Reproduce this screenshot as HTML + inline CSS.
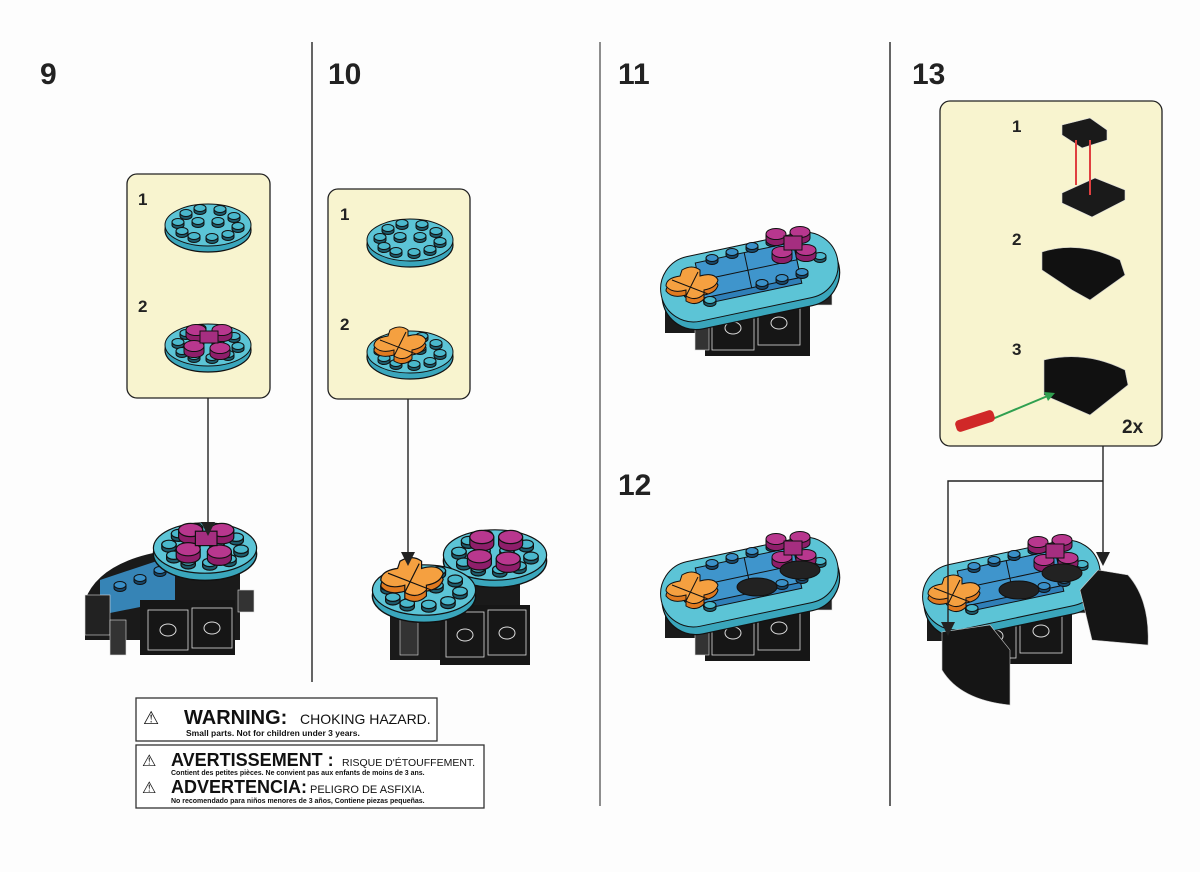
<!DOCTYPE html>
<html><head><meta charset="utf-8"><style>
body{margin:0;background:#fff;}
svg{display:block}
.n{font-family:"Liberation Sans",sans-serif;font-weight:bold;fill:#222}
.w{font-family:"Liberation Sans",sans-serif;fill:#111}
</style></head><body>
<svg width="1200" height="872" viewBox="0 0 1200 872" xmlns="http://www.w3.org/2000/svg">
<defs>
<symbol id="sc" overflow="visible"><path d="M-6,0 v3 a6,3.5 0 0 0 12,0 v-3z" fill="#1c5a6a" stroke="#111" stroke-width="1"/><ellipse rx="6" ry="3.5" fill="#4ab8cc" stroke="#111" stroke-width="1"/></symbol>
<symbol id="sb" overflow="visible"><path d="M-6,0 v3 a6,3.5 0 0 0 12,0 v-3z" fill="#17476a" stroke="#111" stroke-width="1"/><ellipse rx="6" ry="3.5" fill="#3a90c8" stroke="#111" stroke-width="1"/></symbol>
<symbol id="sp" overflow="visible"><path d="M-10,0 v6 a10,5.5 0 0 0 20,0 v-6z" fill="#8e1e6a" stroke="#111" stroke-width="1"/><ellipse rx="10" ry="5.5" fill="#b8378e" stroke="#111" stroke-width="1"/></symbol>
<symbol id="rp" overflow="visible">
<ellipse cx="0" cy="5" rx="43" ry="22" fill="#3aa6bc" stroke="#111" stroke-width="1.2"/>
<ellipse cx="0" cy="0" rx="43" ry="21" fill="#5cc4d6" stroke="#111" stroke-width="1"/>
</symbol>
<symbol id="st12" overflow="visible">
<use href="#sc" x="-30" y="-3"/><use href="#sc" x="-22" y="-12"/><use href="#sc" x="-8" y="-17"/><use href="#sc" x="12" y="-16"/><use href="#sc" x="26" y="-9"/><use href="#sc" x="30" y="1"/><use href="#sc" x="20" y="9"/><use href="#sc" x="4" y="12"/><use href="#sc" x="-14" y="11"/><use href="#sc" x="-26" y="6"/><use href="#sc" x="-10" y="-4"/><use href="#sc" x="10" y="-4"/>
</symbol>
<symbol id="oc" overflow="visible">
<path d="M-8,-16 q10,-6 18,0 l0,6 q14,-4 18,4 q-2,8 -14,10 l0,4 q-8,8 -18,2 l0,-6 q-14,4 -20,-4 q0,-8 14,-10z" fill="#e07a20" transform="translate(0,5)" stroke="#111"/>
<path d="M-8,-16 q10,-6 18,0 l0,6 q14,-4 18,4 q-2,8 -14,10 l0,4 q-8,8 -18,2 l0,-6 q-14,4 -20,-4 q0,-8 14,-10z" fill="#f5a040" stroke="#111"/>
<path d="M-18,-6 L18,8 M-4,10 L8,-14" stroke="#111" fill="none"/>
</symbol>
<symbol id="mod" overflow="visible">
<rect x="665" y="285" width="32" height="48" fill="#1a1a1a"/>
<rect x="810" y="280" width="22" height="25" fill="#222" stroke="#ddd" stroke-width=".6"/>
<rect x="705" y="292" width="105" height="64" fill="#161616"/>
<rect x="712" y="305" width="42" height="45" fill="none" stroke="#ddd" stroke-width=".8"/>
<rect x="758" y="300" width="42" height="45" fill="none" stroke="#ddd" stroke-width=".8"/>
<ellipse cx="733" cy="328" rx="8" ry="6" fill="none" stroke="#ddd"/>
<ellipse cx="779" cy="323" rx="8" ry="6" fill="none" stroke="#ddd"/>
<rect x="695" y="320" width="14" height="30" fill="#333" stroke="#ddd" stroke-width=".6"/>
<g transform="rotate(-12 750 280)">
<rect x="660" y="250" width="180" height="68" rx="34" fill="#3aa6bc" stroke="#111" stroke-width="1.2"/>
<rect x="660" y="244" width="180" height="66" rx="33" fill="#5cc4d6" stroke="#111"/>
<rect x="700" y="258" width="100" height="36" fill="#2f7fb8" stroke="#111"/>
<rect x="700" y="252" width="100" height="36" fill="#3f95cc" stroke="#111"/>
<line x1="750" y1="252" x2="750" y2="288" stroke="#111"/>
<line x1="700" y1="270" x2="800" y2="270" stroke="#111"/>
</g>
<use href="#sb" x="712" y="258"/><use href="#sb" x="732" y="252"/><use href="#sb" x="752" y="246"/><use href="#sb" x="772" y="240"/>
<use href="#sb" x="762" y="283"/><use href="#sb" x="782" y="278"/><use href="#sb" x="802" y="272"/>
<use href="#sc" x="820" y="256"/><use href="#sc" x="710" y="300"/><use href="#sc" x="690" y="292"/>
<use href="#sp" x="776" y="234"/><use href="#sp" x="800" y="232"/><use href="#sp" x="782" y="252"/><use href="#sp" x="806" y="250"/>
<rect x="784" y="236" width="18" height="14" fill="#a52e80" stroke="#111"/>
<use href="#oc" x="690" y="286"/>
</symbol>
</defs>

<rect width="1200" height="872" fill="#fdfdfd"/>
<line x1="312" y1="42" x2="312" y2="682" stroke="#333" stroke-width="1.5"/>
<line x1="600" y1="42" x2="600" y2="806" stroke="#444" stroke-width="1.2"/>
<line x1="890" y1="42" x2="890" y2="806" stroke="#333" stroke-width="1.5"/>

<text class="n" x="40" y="84" font-size="30">9</text>
<text class="n" x="328" y="84" font-size="30">10</text>
<text class="n" x="618" y="84" font-size="30">11</text>
<text class="n" x="912" y="84" font-size="30">13</text>
<text class="n" x="618" y="495" font-size="30">12</text>

<rect x="127" y="174" width="143" height="224" rx="10" fill="#f8f4cf" stroke="#222" stroke-width="1.3"/>
<text class="n" x="138" y="205" font-size="17">1</text>
<text class="n" x="138" y="312" font-size="17">2</text>
<use href="#rp" x="208" y="225"/><use href="#st12" x="208" y="225"/>
<use href="#rp" x="208" y="345"/><use href="#st12" x="208" y="345"/>
<use href="#sp" x="196" y="330"/><use href="#sp" x="222" y="330"/><use href="#sp" x="194" y="346"/><use href="#sp" x="220" y="348"/>
<rect x="200" y="331" width="18" height="12" fill="#a52e80" stroke="#111"/>

<rect x="328" y="189" width="142" height="210" rx="10" fill="#f8f4cf" stroke="#222" stroke-width="1.3"/>
<text class="n" x="340" y="220" font-size="17">1</text>
<text class="n" x="340" y="330" font-size="17">2</text>
<use href="#rp" x="410" y="240"/><use href="#st12" x="410" y="240"/>
<use href="#rp" x="410" y="352"/><use href="#st12" x="410" y="352"/>
<use href="#oc" x="398" y="346"/>

<!-- model 9 -->
<path d="M85,600 Q100,560 170,550 L240,545 L240,640 L85,640z" fill="#1a1a1a"/>
<path d="M100,580 L175,555 L175,600 L100,615z" fill="#3a90c8" opacity=".9"/>
<use href="#sb" x="120" y="585"/><use href="#sb" x="140" y="578"/><use href="#sb" x="160" y="570"/>
<rect x="140" y="600" width="95" height="55" fill="#161616"/>
<rect x="148" y="610" width="40" height="40" fill="none" stroke="#ddd" stroke-width=".8"/>
<rect x="192" y="608" width="40" height="40" fill="none" stroke="#ddd" stroke-width=".8"/>
<ellipse cx="168" cy="630" rx="8" ry="6" fill="none" stroke="#ddd"/>
<ellipse cx="212" cy="628" rx="8" ry="6" fill="none" stroke="#ddd"/>
<rect x="85" y="595" width="25" height="40" fill="#222" stroke="#ddd" stroke-width=".6"/>
<rect x="110" y="620" width="16" height="35" fill="#333" stroke="#ddd" stroke-width=".6"/>
<rect x="238" y="590" width="16" height="22" fill="#333" stroke="#ddd" stroke-width=".6"/>
<g transform="translate(-35 -124) scale(1.2)"><use href="#rp" x="200" y="560"/><use href="#st12" x="200" y="560"/>
<use href="#sp" x="188" y="545"/><use href="#sp" x="214" y="545"/><use href="#sp" x="186" y="561"/><use href="#sp" x="212" y="563"/>
<rect x="192" y="546" width="18" height="12" fill="#a52e80" stroke="#111"/></g>

<!-- model 10 -->
<path d="M390,600 L460,560 L520,555 L520,660 L390,660z" fill="#1a1a1a"/>
<rect x="440" y="605" width="90" height="60" fill="#161616"/>
<rect x="446" y="612" width="38" height="45" fill="none" stroke="#ddd" stroke-width=".8"/>
<rect x="488" y="610" width="38" height="45" fill="none" stroke="#ddd" stroke-width=".8"/>
<ellipse cx="465" cy="635" rx="8" ry="6" fill="none" stroke="#ddd"/>
<ellipse cx="507" cy="633" rx="8" ry="6" fill="none" stroke="#ddd"/>
<rect x="400" y="615" width="18" height="40" fill="#333" stroke="#ddd" stroke-width=".6"/>
<g transform="translate(-99 -99) scale(1.2)"><use href="#rp" x="495" y="545"/><use href="#st12" x="495" y="545"/>
<use href="#sp" x="484" y="530"/><use href="#sp" x="508" y="530"/><use href="#sp" x="482" y="546"/><use href="#sp" x="506" y="548"/></g>
<g transform="translate(-80 -118) scale(1.2)"><use href="#rp" x="420" y="590"/><use href="#st12" x="420" y="590"/><use href="#oc" x="408" y="582"/></g>

<!-- arrows 9/10 on top -->
<line x1="208" y1="398" x2="208" y2="525" stroke="#222" stroke-width="1.4"/>
<path d="M201,522 L215,522 L208,536z" fill="#222"/>
<line x1="408" y1="399" x2="408" y2="555" stroke="#222" stroke-width="1.4"/>
<path d="M401,552 L415,552 L408,566z" fill="#222"/>

<use href="#mod"/>
<g transform="translate(0 305)"><use href="#mod"/>
<ellipse cx="757" cy="282" rx="20" ry="9" fill="#222" stroke="#111"/><ellipse cx="800" cy="265" rx="20" ry="9" fill="#222" stroke="#111"/></g>
<g transform="translate(262 308)"><use href="#mod"/>
<ellipse cx="757" cy="282" rx="20" ry="9" fill="#222" stroke="#111"/><ellipse cx="800" cy="265" rx="20" ry="9" fill="#222" stroke="#111"/></g>
<path d="M1098,570 L1128,575 Q1150,600 1148,645 L1092,640 L1080,590z" fill="#151515" stroke="#ccc" stroke-width=".6"/>
<path d="M942,632 L990,625 L1010,650 L1010,705 Q960,700 942,670z" fill="#151515" stroke="#ccc" stroke-width=".6"/>

<rect x="940" y="101" width="222" height="345" rx="10" fill="#f8f4cf" stroke="#222" stroke-width="1.3"/>
<text class="n" x="1012" y="132" font-size="17">1</text>
<text class="n" x="1012" y="245" font-size="17">2</text>
<text class="n" x="1012" y="355" font-size="17">3</text>
<text class="n" x="1122" y="433" font-size="19">2x</text>
<path d="M1062,125 L1090,118 L1107,130 L1107,140 L1082,148 L1062,135z" fill="#1a1a1a" stroke="#ddd" stroke-width=".6"/>
<path d="M1062,193 L1095,178 L1125,190 L1125,200 L1092,217 L1062,203z" fill="#1a1a1a" stroke="#ddd" stroke-width=".6"/>
<line x1="1076" y1="140" x2="1076" y2="185" stroke="#e04040" stroke-width="2"/><line x1="1090" y1="140" x2="1090" y2="195" stroke="#e04040" stroke-width="2"/>
<path d="M1042,252 Q1080,240 1120,260 L1125,275 L1090,300 L1072,290 L1042,270z" fill="#111" stroke="#ccc" stroke-width=".6"/>
<path d="M1044,360 Q1085,350 1125,370 L1128,385 L1090,415 L1044,395z" fill="#111" stroke="#ccc" stroke-width=".6"/>
<line x1="990" y1="420" x2="1050" y2="395" stroke="#30a050" stroke-width="2"/>
<path d="M1055,393 L1044,392 L1048,401z" fill="#30a050"/>
<rect x="955" y="415" width="40" height="12" rx="4" fill="#d02828" transform="rotate(-18 975 421)"/>
<line x1="1103" y1="446" x2="1103" y2="555" stroke="#222" stroke-width="1.4"/>
<path d="M1096,552 L1110,552 L1103,566z" fill="#222"/>
<polyline points="1103,481 948,481 948,625" fill="none" stroke="#222" stroke-width="1.4"/>
<path d="M941,622 L955,622 L948,636z" fill="#222"/>

<rect x="136" y="698" width="301" height="43" fill="#fff" stroke="#333" stroke-width="1.3"/>
<text class="w" x="143" y="724" font-size="18">⚠</text>
<text class="w" x="184" y="724" font-size="20" font-weight="bold">WARNING:</text>
<text class="w" x="300" y="724" font-size="14">CHOKING HAZARD.</text>
<text class="w" x="186" y="736" font-size="8.5" font-weight="bold">Small parts. Not for children under 3 years.</text>
<rect x="136" y="745" width="348" height="63" fill="#fff" stroke="#333" stroke-width="1.3"/>
<text class="w" x="142" y="766" font-size="16">⚠</text>
<text class="w" x="171" y="766" font-size="18" font-weight="bold">AVERTISSEMENT :</text>
<text class="w" x="342" y="766" font-size="10.5">RISQUE D'ÉTOUFFEMENT.</text>
<text class="w" x="171" y="775" font-size="7" font-weight="bold">Contient des petites pièces. Ne convient pas aux enfants de moins de 3 ans.</text>
<text class="w" x="142" y="793" font-size="16">⚠</text>
<text class="w" x="171" y="793" font-size="18" font-weight="bold">ADVERTENCIA:</text>
<text class="w" x="310" y="793" font-size="11">PELIGRO DE ASFIXIA.</text>
<text class="w" x="171" y="803" font-size="7" font-weight="bold">No recomendado para niños menores de 3 años, Contiene piezas pequeñas.</text>
</svg>
</body></html>
